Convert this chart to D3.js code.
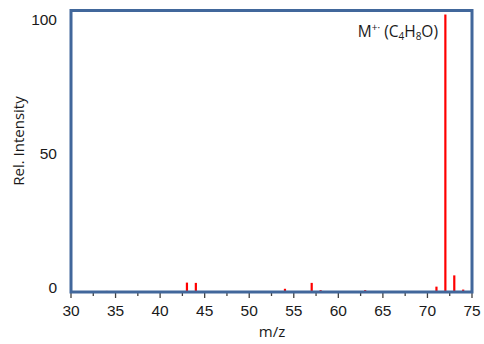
<!DOCTYPE html>
<html>
<head>
<meta charset="utf-8">
<script src="https://cdn.jsdelivr.net/npm/d3@7"></script>
<style>
  html, body { margin: 0; padding: 0; background: #fff; }
  svg { display: block; }
</style>
</head>
<body>
<svg id="chart" width="484" height="344"></svg>
<script>
// Mass spectrum of C4H8O: m/z positions and relative intensities
const mz =        [34,  43,  44,  54,  57,  58,  63,  71,  72,    73,  74];
const intensity = [0.4, 3.5, 3.4, 1.2, 3.4, 0.7, 0.7, 2.0, 103.5, 6.2, 0.9];

const xMajorTicks = [30, 35, 40, 45, 50, 55, 60, 65, 70, 75];
const xMinorTicks = [32.5, 37.5, 42.5, 47.5, 52.5, 57.5, 62.5, 67.5, 72.5];
const yTicks = [0, 50, 100];

const svg = d3.select("#chart");
const plotLeft = 71, plotRight = 472, plotTop = 10.5, plotBottom = 292;

const x = d3.scaleLinear().domain([30, 75]).range([plotLeft, plotRight]);
const y = d3.scaleLinear().domain([0, 105]).range([plotBottom, plotTop]);

const frameColor = "#41679b";
const labelFont = "'Liberation Sans', Arial, sans-serif";
const titleFont = "'Open Sans', sans-serif";

// spectrum sticks
svg.append("g")
  .selectAll("rect")
  .data(mz)
  .join("rect")
  .attr("x", (d) => x(d) - 1)
  .attr("width", 2.2)
  .attr("y", (d, i) => y(intensity[i]))
  .attr("height", (d, i) => plotBottom - y(intensity[i]))
  .attr("fill", "#ff0000");

// x axis ticks (major and minor)
const xAxis = svg.append("g").attr("transform", `translate(0,${plotBottom})`);
xAxis.selectAll("line.major")
  .data(xMajorTicks)
  .join("line")
  .attr("class", "major")
  .attr("x1", (d) => x(d)).attr("x2", (d) => x(d))
  .attr("y1", 0).attr("y2", 6)
  .attr("stroke", "#404040").attr("stroke-width", 1.3);
xAxis.selectAll("line.minor")
  .data(xMinorTicks)
  .join("line")
  .attr("class", "minor")
  .attr("x1", (d) => x(d)).attr("x2", (d) => x(d))
  .attr("y1", 0).attr("y2", 4)
  .attr("stroke", "#404040").attr("stroke-width", 1.3);
xAxis.selectAll("text")
  .data(xMajorTicks)
  .join("text")
  .attr("x", (d) => x(d))
  .attr("y", 24)
  .attr("text-anchor", "middle")
  .attr("font-family", labelFont)
  .attr("font-size", 15.5)
  .attr("fill", "#1a1a1a")
  .text((d) => d);

// y tick labels
svg.append("g")
  .selectAll("text")
  .data(yTicks)
  .join("text")
  .attr("x", 57)
  .attr("y", (d) => y(d) + 1)
  .attr("text-anchor", "end")
  .attr("font-family", labelFont)
  .attr("font-size", 15.5)
  .attr("fill", "#1a1a1a")
  .text((d) => d);

// plot frame
svg.append("rect")
  .attr("x", plotLeft).attr("y", plotTop)
  .attr("width", plotRight - plotLeft).attr("height", plotBottom - plotTop)
  .attr("fill", "none")
  .attr("stroke", frameColor)
  .attr("stroke-width", 3);

// axis titles
svg.append("text")
  .attr("x", 272).attr("y", 337)
  .attr("text-anchor", "middle")
  .attr("font-family", titleFont)
  .attr("font-size", 15)
  .attr("fill", "#1a1a1a")
  .text("m/z");

svg.append("text")
  .attr("transform", "translate(24,141) rotate(-90)")
  .attr("text-anchor", "middle")
  .attr("font-family", titleFont)
  .attr("font-size", 15)
  .attr("fill", "#1a1a1a")
  .text("Rel. Intensity");

// molecular ion annotation
const ann = svg.append("text")
  .attr("x", 438).attr("y", 37)
  .attr("text-anchor", "end")
  .attr("font-family", titleFont)
  .attr("font-size", 15.5)
  .attr("fill", "#1a1a1a");
ann.append("tspan").text("M");
ann.append("tspan").attr("dy", -6).attr("font-size", 10).text("+·");
ann.append("tspan").attr("dy", 6).text(" (C");
ann.append("tspan").attr("dy", 3).attr("font-size", 10).text("4");
ann.append("tspan").attr("dy", -3).text("H");
ann.append("tspan").attr("dy", 3).attr("font-size", 10).text("8");
ann.append("tspan").attr("dy", -3).text("O)");
</script>
</body>
</html>
